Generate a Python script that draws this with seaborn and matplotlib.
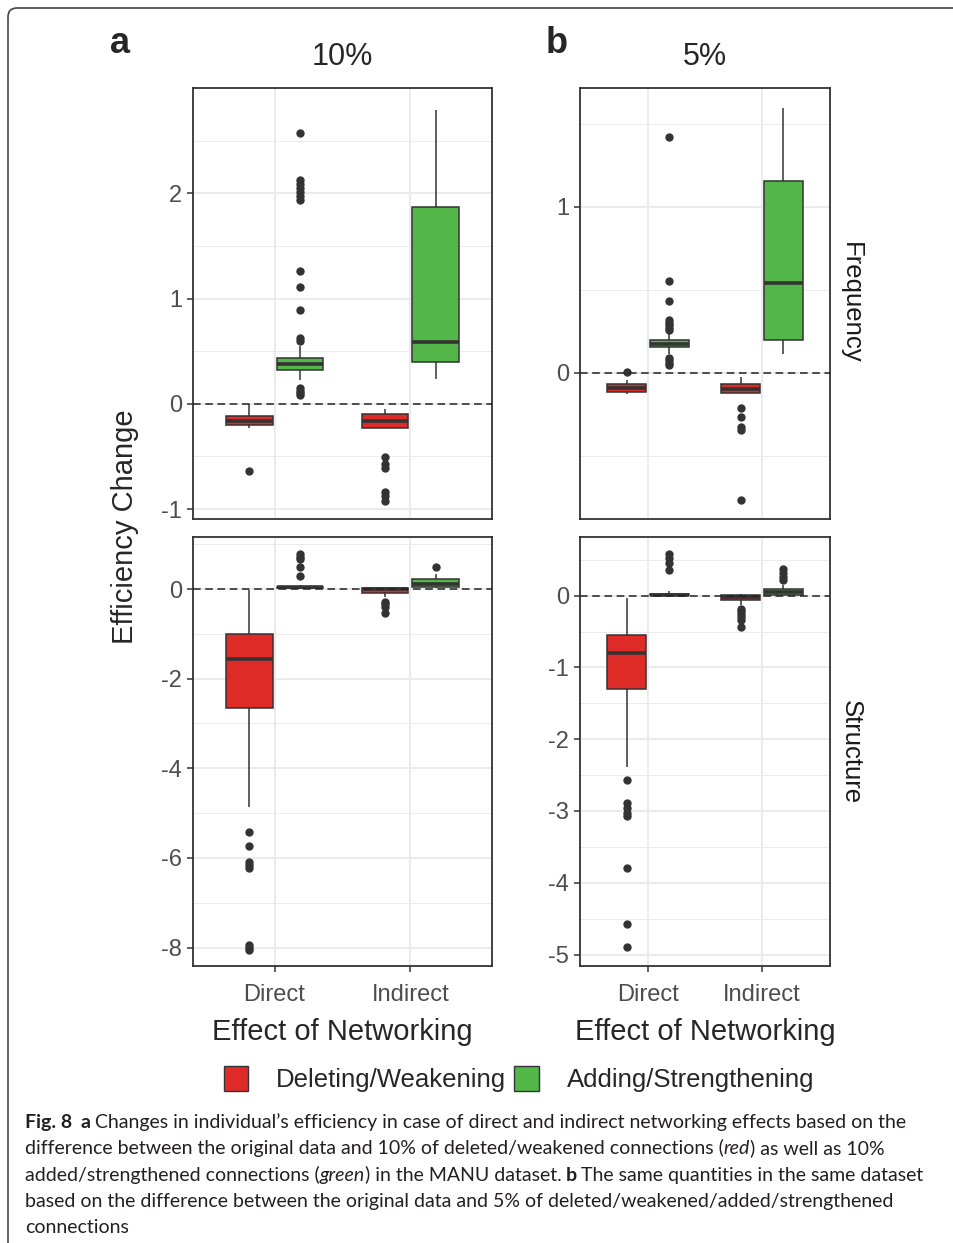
import numpy as np
import pandas as pd
import seaborn as sns
import matplotlib
matplotlib.use("Agg")
import matplotlib.pyplot as plt
from matplotlib.patches import FancyBboxPatch, Patch

sns.set_theme(style="white")
plt.rcParams["font.family"] = ["Liberation Sans", "DejaVu Sans"]
plt.rcParams["axes.unicode_minus"] = False

W, H = 954, 1243

# ---------- DATA ----------
effects = ["Direct", "Indirect"]
changes = ["Deleting/Weakening", "Adding/Strengthening"]
colors = ["#DE2B27", "#52B748"]
# box order in every block: Direct-Del, Direct-Add, Indirect-Del, Indirect-Add

# a) 10% - Frequency
f10_lo  = [-0.234, 0.23, -0.23, 0.232]
f10_q1  = [-0.20, 0.323, -0.228, 0.396]
f10_med = [-0.165, 0.38, -0.165, 0.585]
f10_q3  = [-0.117, 0.431, -0.10, 1.866]
f10_hi  = [0.0, 0.55, -0.047, 2.793]
f10_out = [[-0.64],
           [0.15, 0.12, 0.10, 0.08, 0.60, 0.62, 0.89, 1.11, 1.26,
            1.94, 1.97, 2.01, 2.05, 2.09, 2.13, 2.57],
           [-0.51, -0.575, -0.615, -0.84, -0.88, -0.92],
           []]

# a) 10% - Structure
s10_lo  = [-4.87, 0.0, -0.17, 0.02]
s10_q1  = [-2.66, 0.02, -0.09, 0.052]
s10_med = [-1.56, 0.035, -0.01, 0.12]
s10_q3  = [-1.01, 0.055, 0.02, 0.223]
s10_hi  = [-0.03, 0.08, 0.02, 0.335]
s10_out = [[-5.43, -5.73, -6.08, -6.15, -6.23, -7.94, -8.0, -8.05],
           [0.30, 0.50, 0.66, 0.72, 0.78],
           [-0.29, -0.33, -0.41, -0.53],
           [0.49]]

# b) 5% - Frequency
f5_lo  = [-0.13, 0.11, -0.125, 0.111]
f5_q1  = [-0.114, 0.155, -0.125, 0.197]
f5_med = [-0.092, 0.175, -0.10, 0.542]
f5_q3  = [-0.07, 0.195, -0.07, 1.157]
f5_hi  = [-0.044, 0.24, -0.028, 1.593]
f5_out = [[0.003],
          [0.045, 0.06, 0.075, 0.09, 0.26, 0.27, 0.285, 0.30, 0.32, 0.435, 0.55, 1.42],
          [-0.215, -0.265, -0.325, -0.345, -0.765],
          []]

# b) 5% - Structure
s5_lo  = [-2.384, 0.0, -0.13, 0.01]
s5_q1  = [-1.297, 0.005, -0.065, 0.01]
s5_med = [-0.803, 0.015, -0.02, 0.05]
s5_q3  = [-0.552, 0.03, 0.01, 0.093]
s5_hi  = [-0.037, 0.06, 0.02, 0.149]
s5_out = [[-2.57, -2.886, -2.965, -3.034, -3.07, -3.79, -4.568, -4.894],
          [0.358, 0.451, 0.521, 0.581],
          [-0.19, -0.22, -0.26, -0.30, -0.34, -0.43],
          [0.225, 0.256, 0.312, 0.367]]

REP = 200


def build_df(lo, q1, med, q3, hi, out):
    # sample whose quartiles / whiskers / outliers reproduce the read-off boxes
    rows = []
    k = 0
    for e in effects:
        for c in changes:
            vals = list(out[k]) + [lo[k], hi[k]] + [q1[k]] * REP + [med[k]] * REP + [q3[k]] * REP
            rows += [(e, c, v) for v in vals]
            k += 1
    return pd.DataFrame(rows, columns=["effect", "change", "value"])


fig = plt.figure(figsize=(W / 100, H / 100), dpi=100)

bg = fig.add_axes([0, 0, 1, 1], zorder=-10)
bg.set_xlim(0, W)
bg.set_ylim(H, 0)
bg.axis("off")
bg.add_patch(FancyBboxPatch((8, 8), W + 20, H + 20, boxstyle="round,pad=0,rounding_size=9",
                            fill=False, ec="#444444", lw=1.2))


def add_ax(x0, y0, x1, y1):
    return fig.add_axes([x0 / W, 1 - y1 / H, (x1 - x0) / W, (y1 - y0) / H])


def draw_panel(ax, df, ylim, majors, minors, show_x):
    ax.set_axisbelow(True)
    sns.boxplot(data=df, x="effect", y="value", hue="change", order=effects, hue_order=changes,
                palette=colors, saturation=1, width=0.75, gap=0.08, linecolor="#333333",
                linewidth=1.1, whis=1.5, showcaps=False,
                flierprops=dict(marker="o", markersize=5, markerfacecolor="#333333",
                                markeredgecolor="#333333"),
                medianprops=dict(linewidth=2.6, color="#333333"),
                legend=False, ax=ax)
    ax.axhline(0, color="#222222", lw=1.1, ls=(0, (5, 3)), zorder=5)
    ax.set_xlim(-0.6, 1.6)
    ax.set_ylim(*ylim)
    ax.set_yticks(majors)
    ax.set_yticks(minors, minor=True)
    ax.set_yticklabels([f"{t:g}" for t in majors])
    ax.grid(which="major", color="#EBEBEB", lw=1.4)
    ax.grid(which="minor", axis="y", color="#EBEBEB", lw=0.7)
    ax.tick_params(which="minor", length=0)
    ax.tick_params(which="major", length=4, width=1.1, color="#333333", labelsize=17,
                   labelcolor="#4D4D4D", pad=4, left=True, bottom=show_x, labelbottom=show_x)
    ax.tick_params(axis="x", pad=9)
    for s in ax.spines.values():
        s.set_color("#333333")
        s.set_linewidth(1.3)
    ax.set_xlabel("")
    ax.set_ylabel("")


ax1 = add_ax(193, 88, 492, 519)
draw_panel(ax1, build_df(f10_lo, f10_q1, f10_med, f10_q3, f10_hi, f10_out),
           (-1.095, 3.0), [-1, 0, 1, 2], [-0.5, 0.5, 1.5, 2.5], False)
ax2 = add_ax(193, 537, 492, 966)
draw_panel(ax2, build_df(s10_lo, s10_q1, s10_med, s10_q3, s10_hi, s10_out),
           (-8.41, 1.16), [-8, -6, -4, -2, 0], [-7, -5, -3, -1, 1], True)
ax3 = add_ax(580, 88, 830, 519)
draw_panel(ax3, build_df(f5_lo, f5_q1, f5_med, f5_q3, f5_hi, f5_out),
           (-0.881, 1.715), [0, 1], [-0.5, 0.5, 1.5], False)
ax4 = add_ax(580, 537, 830, 966)
draw_panel(ax4, build_df(s5_lo, s5_q1, s5_med, s5_q3, s5_hi, s5_out),
           (-5.16, 0.818), [-5, -4, -3, -2, -1, 0], [-4.5, -3.5, -2.5, -1.5, -0.5, 0.5], True)

# ---------- labels ----------
bg.text(120, 43, "a", fontsize=26, fontweight="bold", ha="center", va="center")
bg.text(557, 43, "b", fontsize=26, fontweight="bold", ha="center", va="center")
bg.text(342, 57, "10%", fontsize=22, ha="center", va="center")
bg.text(705, 57, "5%", fontsize=22, ha="center", va="center")
bg.text(851, 303, "Frequency", fontsize=18.5, rotation=-90, ha="center", va="center", color="#1A1A1A")
bg.text(851, 752, "Structure", fontsize=18.5, rotation=-90, ha="center", va="center", color="#1A1A1A")
bg.text(125, 527, "Efficiency Change", fontsize=21, rotation=90, ha="center", va="center")
bg.text(342, 1032, "Effect of Networking", fontsize=21, ha="center", va="center")
bg.text(705, 1032, "Effect of Networking", fontsize=21, ha="center", va="center")

fig.legend(handles=[Patch(fc=c, ec="#333333", lw=1.0, label=l) for c, l in zip(colors, changes)],
           loc="center", bbox_to_anchor=(519 / W, 1 - 1079 / H), ncol=2, frameon=False,
           fontsize=18.5, handlelength=0.95, handleheight=1.15, handletextpad=1.1,
           columnspacing=0.3)

# ---------- caption ----------
cap_font = ["Lato", "DejaVu Sans"]
cap_size = 14
caption = [
    [("Fig. 8", "bold", 0), ("a", "bold", 6), ("Changes in individual\u2019s efficiency in case of direct and indirect networking effects based on the", "normal", 3)],
    [("difference between the original data and 10% of deleted/weakened connections (", "normal", 0), ("red", "italic", 0), (") as well as 10%", "normal", 0)],
    [("added/strengthened connections (", "normal", 0), ("green", "italic", 0), (") in the MANU dataset.", "normal", 0), ("b", "bold", 3), ("The same quantities in the same dataset", "normal", 3)],
    [("based on the difference between the original data and 5% of deleted/weakened/added/strengthened", "normal", 0)],
    [("connections", "normal", 0)],
]
for i, parts in enumerate(caption):
    y = 1131 + i * 26.3
    t = None
    for s, st, gap in parts:
        kw = dict(fontsize=cap_size, family=cap_font, color="#231F20", va="bottom", ha="left")
        if st == "bold":
            kw["fontweight"] = "bold"
        if st == "italic":
            kw["fontstyle"] = "italic"
        if t is None:
            t = bg.text(25, y, s, **kw)
        else:
            t = bg.annotate(s, xy=(1, 0), xycoords=t, xytext=(gap, 0), textcoords="offset points", **kw)

fig.savefig("out.png", dpi=100)
